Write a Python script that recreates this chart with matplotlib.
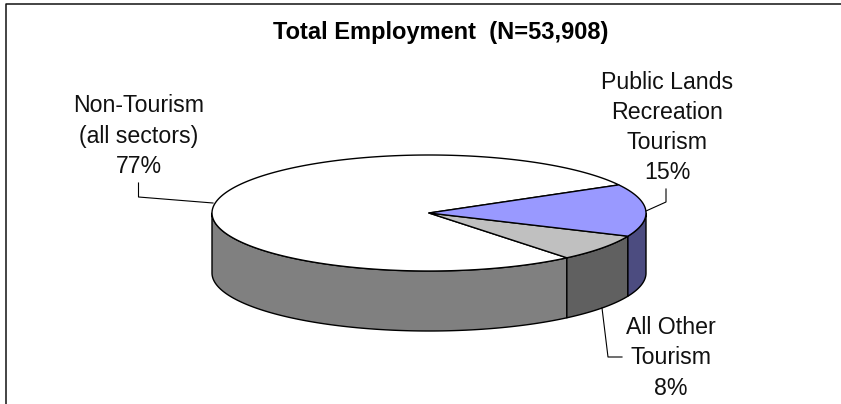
import numpy as np
import matplotlib
matplotlib.use("Agg")
import matplotlib.pyplot as plt

plt.rcParams['font.family'] = ['Liberation Sans', 'DejaVu Sans']

# Data
categories = ["Public Lands\nRecreation\nTourism", "All Other\nTourism", "Non-Tourism\n(all sectors)"]
shown_percent = [15, 8, 77]
shares = [14.6, 7.5, 77.9]
top_colors = ["#9999FF", "#C0C0C0", "#FFFFFF"]
side_colors = ["#4C4C80", "#606060", "#808080"]
title = "Total Employment  (N=53,908)"

W, H = 841, 404
fig = plt.figure(figsize=(W / 100, H / 100), dpi=100)
ax = fig.add_axes([0, 0, 1, 1])
ax.set_xlim(0, W)
ax.set_ylim(H, 0)
ax.axis('off')

cx, cy, a, b, depth = 429.0, 213.0, 217.0, 58.0, 60.0
start_angle = 29.0

def pt(deg):
    r = np.radians(deg)
    return cx + a * np.cos(r), cy - b * np.sin(r)

# wedge angle spans, running clockwise from start angle
edges = start_angle - 3.6 * np.concatenate([[0], np.cumsum(shares)])

# chart frame (runs off the right and bottom of the picture)
ax.plot([6, 6, W + 5], [H + 5, 4, 4], color='#111111', lw=1.1, zorder=1, clip_on=True)

# side walls (only the visible front half: angles from 0 down to -180)
for i in [2, 1, 0]:
    hi, lo = edges[i], edges[i + 1]
    hi_v = min(hi, 0.0)
    lo_v = max(lo, -180.0) if i != 2 else -180.0
    if hi_v <= lo_v:
        continue
    t = np.linspace(hi_v, lo_v, 120)
    x, y = pt(t)
    xs = np.concatenate([x, x[::-1]])
    ys = np.concatenate([y, y[::-1] + depth])
    ax.fill(xs, ys, facecolor=side_colors[i], edgecolor='black', lw=1.0, joinstyle='round', zorder=2)

# top faces
for i in [2, 1, 0]:
    t = np.linspace(edges[i], edges[i + 1], 300)
    x, y = pt(t)
    ax.fill(np.r_[cx, x], np.r_[cy, y], facecolor=top_colors[i], edgecolor='black', lw=1.0, joinstyle='round', zorder=3)

# text
ax.text(440.5, 32, title, ha='center', va='center', fontsize=17, fontweight='bold', color='black')
label_pos = [(667, 127.5), (671, 358), (138.5, 136)]
for (lx, ly), name, pct in zip(label_pos, categories, shown_percent):
    ax.text(lx, ly, f"{name}\n{pct}%", ha='center', va='center', fontsize=16.7, linespacing=1.40,
            color='#111111', multialignment='center')

# leader lines
leaders = [
    ([666, 666, 646], [189, 202, 211]),
    ([602, 608, 622], [308, 357, 357]),
    ([138.5, 138.5, 213], [183, 197, 203]),
]
for lxs, lys in leaders:
    ax.plot(lxs, lys, color='black', lw=0.8, zorder=4)

fig.savefig('out.png', dpi=100)
